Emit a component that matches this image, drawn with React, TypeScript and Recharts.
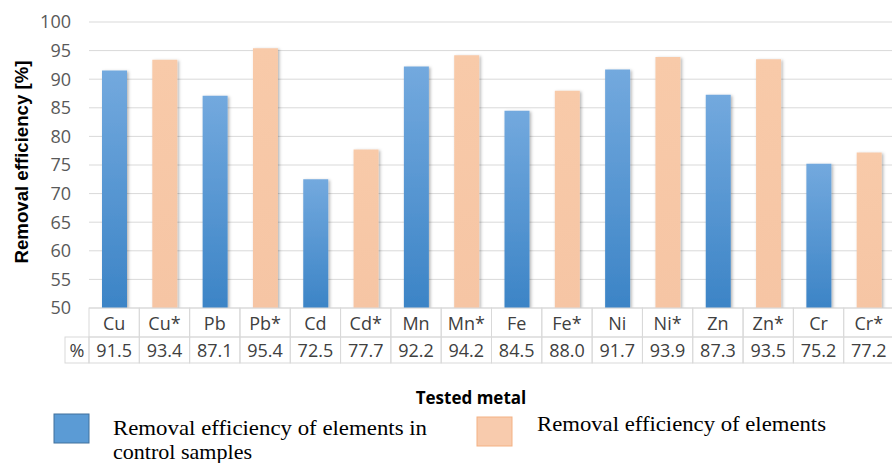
import React from 'react';
import { BarChart, Bar, XAxis, YAxis, CartesianGrid, Cell } from 'recharts';

const metals = ['Cu', 'Cu*', 'Pb', 'Pb*', 'Cd', 'Cd*', 'Mn', 'Mn*', 'Fe', 'Fe*', 'Ni', 'Ni*', 'Zn', 'Zn*', 'Cr', 'Cr*'];
const removal = [91.5, 93.4, 87.1, 95.4, 72.5, 77.7, 92.2, 94.2, 84.5, 88.0, 91.7, 93.9, 87.3, 93.5, 75.2, 77.2];
const sampleGroup = ['control', 'treated', 'control', 'treated', 'control', 'treated', 'control', 'treated',
  'control', 'treated', 'control', 'treated', 'control', 'treated', 'control', 'treated'];
const yTicks = [50, 55, 60, 65, 70, 75, 80, 85, 90, 95, 100];
const legendLabels = ['Removal efficiency of elements in', 'control samples', 'Removal efficiency of elements'];

const data = metals.map((name, i) => ({ name, value: removal[i], group: sampleGroup[i] }));

const CELL_W = (894 - 89) / 16;
const ROW1 = 29;
const ROW2 = 26;
const GRID = '#d9d9d9';
const TXT = '#404040';
const FONT = '"Open Sans", sans-serif';

const TableTick = (props: any) => {
  const { x, y, payload } = props;
  const i = metals.indexOf(payload.value);
  const v = removal[i];
  const left = x - CELL_W / 2;
  return (
    <g>
      <rect x={left} y={y} width={CELL_W} height={ROW1} fill="none" stroke={GRID} strokeWidth={1} />
      <rect x={left} y={y + ROW1} width={CELL_W} height={ROW2} fill="none" stroke={GRID} strokeWidth={1} />
      <text x={x} y={y + 22} textAnchor="middle" fontSize={18} fontFamily={FONT} fill={TXT}>{payload.value}</text>
      <text x={x} y={y + ROW1 + 20} textAnchor="middle" fontSize={18} fontFamily={FONT} fill={TXT}>{v.toFixed(1)}</text>
      {i === 0 && (
        <g>
          <rect x={left - 24} y={y + ROW1} width={24} height={ROW2} fill="none" stroke={GRID} strokeWidth={1} />
          <text x={left - 12} y={y + ROW1 + 20} textAnchor="middle" fontSize={18} fontFamily={FONT} fill={TXT}>%</text>
        </g>
      )}
    </g>
  );
};

export default function App() {
  return (
    <div style={{ position: 'absolute', left: 0, top: 0, width: 892, height: 463, overflow: 'hidden', background: '#fff' }}>
      <svg width={0} height={0} style={{ position: 'absolute' }}>
        <defs>
          <linearGradient id="gradBlue" x1="0" y1="0" x2="0" y2="1">
            <stop offset="0%" stopColor="#73a9de" />
            <stop offset="100%" stopColor="#3c84c6" />
          </linearGradient>
          <linearGradient id="gradOrange" x1="0" y1="0" x2="0" y2="1">
            <stop offset="0%" stopColor="#f8caa9" />
            <stop offset="100%" stopColor="#f6c5a4" />
          </linearGradient>
          <filter id="barShadow" x="-30%" y="-10%" width="160%" height="120%">
            <feDropShadow dx="1.5" dy="1" stdDeviation="1.5" floodColor="#000" floodOpacity="0.3" />
          </filter>
        </defs>
      </svg>
      <BarChart width={894} height={463} data={data} margin={{ top: 22, right: 0, left: 0, bottom: 0 }}>
        <CartesianGrid vertical={false} stroke={GRID} />
        <XAxis dataKey="name" height={155} interval={0} tickLine={false} axisLine={false} tickSize={0} tickMargin={0} tick={<TableTick />} />
        <YAxis domain={[50, 100]} ticks={yTicks} width={89} tickLine={false} axisLine={false} tickSize={0} tickMargin={18}
          tick={{ fontSize: 18, fontFamily: FONT, fill: '#595959' }} allowDataOverflow />
        <Bar dataKey="value" barSize={25} isAnimationActive={false}>
          {data.map((d, i) => (
            <Cell key={i} fill={d.group === 'control' ? 'url(#gradBlue)' : 'url(#gradOrange)'} style={{ filter: 'url(#barShadow)' }} />
          ))}
        </Bar>
      </BarChart>
      <svg width={892} height={463} style={{ position: 'absolute', left: 0, top: 0, pointerEvents: 'none' }}>
        <text x={22} y={162} transform="rotate(-90 22 162)" textAnchor="middle" dominantBaseline="central"
          fontSize={18} fontWeight="bold" fontFamily='"Liberation Sans", Arial, sans-serif' fill="#000"
          textLength={203} lengthAdjust="spacingAndGlyphs">Removal efficiency  [%]</text>
        <text x={471} y={404} textAnchor="middle" fontSize={17} fontWeight="bold" fontFamily={FONT} fill="#000">Tested metal</text>
        <rect x={54} y={414} width={35} height={29} fill="#5b9bd5" stroke="#41719c" strokeWidth={1} />
        <text x={113} y={435} fontSize={21} fontFamily='"Liberation Serif", serif' fill="#000" textLength={314} lengthAdjust="spacingAndGlyphs">{legendLabels[0]}</text>
        <text x={113} y={459} fontSize={21} fontFamily='"Liberation Serif", serif' fill="#000" textLength={139} lengthAdjust="spacingAndGlyphs">{legendLabels[1]}</text>
        <rect x={477} y={417} width={35} height={29} fill="#f8cbad" stroke="#f4b183" strokeWidth={1} />
        <text x={537} y={431} fontSize={21} fontFamily='"Liberation Serif", serif' fill="#000" textLength={289} lengthAdjust="spacingAndGlyphs">{legendLabels[2]}</text>
      </svg>
    </div>
  );
}
